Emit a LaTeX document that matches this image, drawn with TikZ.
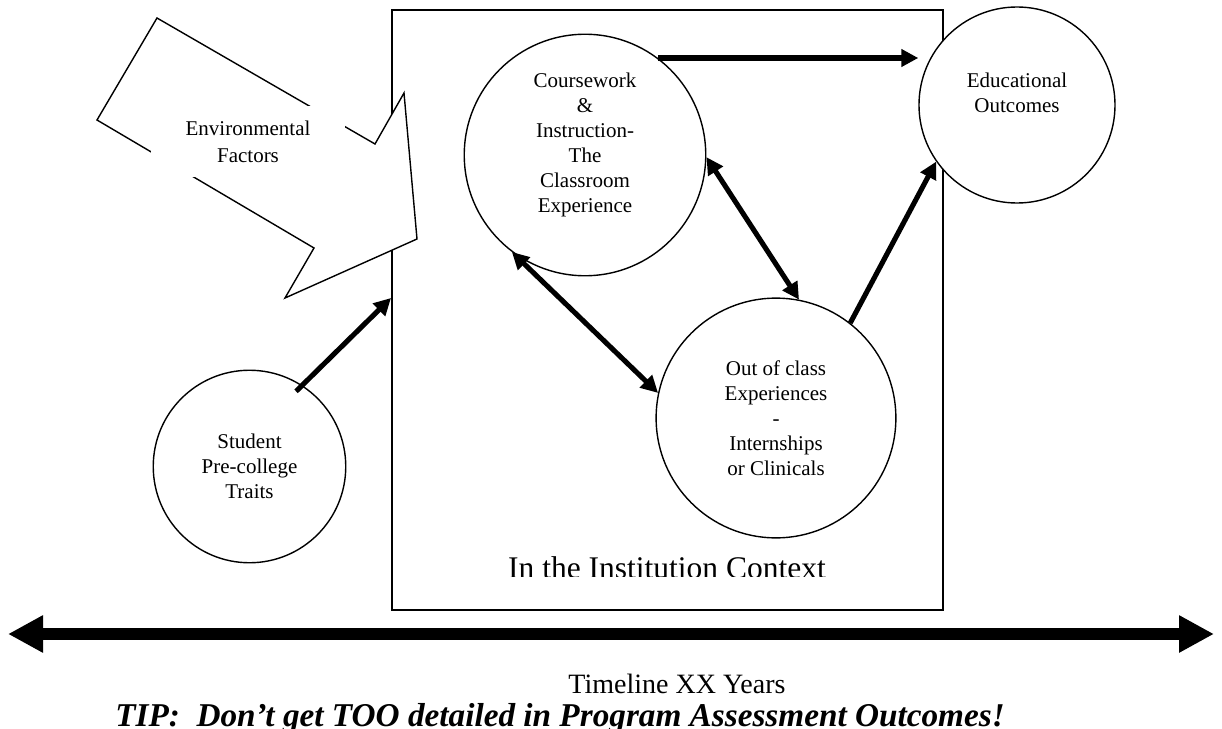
\documentclass[tikz,border=0pt]{standalone}
\usepackage{fontspec}
\setmainfont{Liberation Serif}
\usetikzlibrary{arrows.meta}

\begin{document}
\begin{tikzpicture}
  [x=0.5714pt, y=-0.5714pt,
circ/.style={shape=circle, draw, fill=white, line width=0.8pt, inner sep=0pt,
  align=center, font=\fontsize{12}{14.3}\selectfont},
edge/.style={line width=2.9pt, -{Triangle[length=9.7pt,width=9.7pt]}},
twoway/.style={line width=2.9pt, {Triangle[length=9.7pt,width=9.7pt]}-{Triangle[length=9.7pt,width=9.7pt]}}]

\useasboundingbox (0,0) rectangle (1222,729);

% institution box
\node (IN) at (667.5,310) [draw, line width=1.1pt, minimum width=314.9pt, minimum height=342.9pt] {};
\begin{scope}
  \clip (392,500) rectangle (943,576);
  \node (IC) at (667,578) [anchor=base, font=\fontsize{18}{21}\selectfont] {In the Institution Context};
\end{scope}

% callout
\draw [line width=0.8pt, fill=white]
  (157,18) -- (97,120) -- (314,248) -- (285,298) -- (417,239) -- (404,93) -- (375,144) -- cycle;
\node (EF) at (248,141.5) [fill=white, minimum width=111pt, minimum height=40.6pt, align=center,
  font=\fontsize{12}{15.4}\selectfont] {Environmental\\Factors};

% circles
\node (CW) at (585,155) [circ, minimum size=138pt] {Coursework\\\&\\Instruction-\\The\\Classroom\\Experience\\\mbox{}};
\node (EO) at (1017,105) [circ, minimum size=112pt] {Educational\\Outcomes\\\mbox{}};
\node (OC) at (776,418) [circ, minimum size=137pt] {Out of class\\Experiences\\-\\Internships\\or Clinicals};
\node (SP) at (249.5,466.5) [circ, minimum size=110pt] {Student\\Pre-college\\Traits};

\coordinate (IN1) at (391,298);

\draw [edge] (CW.53) -- (CW.53 -| EO.west);
\draw [edge] (OC.52) -- (EO.215);
\draw [twoway] (CW.-1) -- (OC.79);
\draw [twoway] (CW.233) -- (OC.168);
\draw [edge, shorten <=-5pt] (SP.57) -- (IN1);

% timeline
\coordinate (TL) at (8,634);
\coordinate (TR) at (1214,634);
\draw [line width=6.9pt, {Triangle[length=20pt,width=20pt]}-{Triangle[length=20pt,width=20pt]}] (TL) -- (TR);

\node (TY) at (677,693) [anchor=base, font=\fontsize{16}{19}\selectfont] {Timeline XX Years};
\node (TIP) at (560,726) [anchor=base, font=\fontsize{19}{22}\selectfont\bfseries\itshape] {TIP:\ \ Don’t get TOO detailed in Program Assessment Outcomes!};

\end{tikzpicture}
\end{document}
